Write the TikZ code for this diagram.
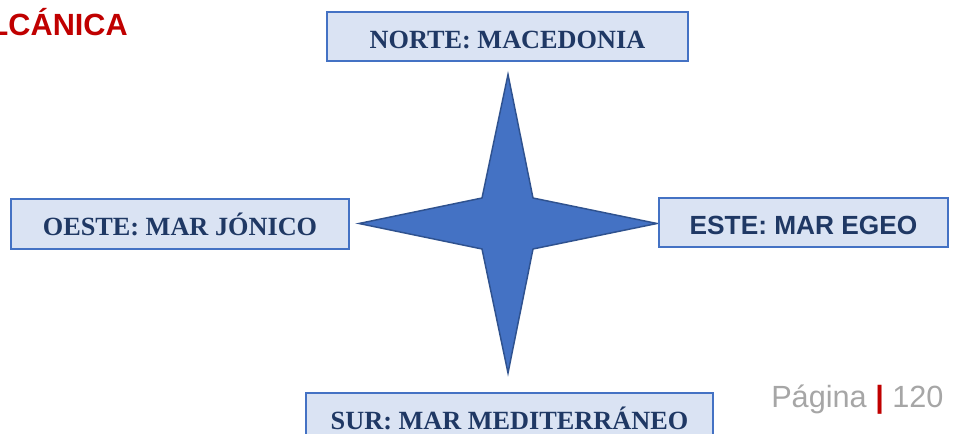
\documentclass[tikz,border=0pt]{standalone}
\usepackage{fontspec}
\setmainfont{Liberation Serif}
\setsansfont{Liberation Sans}
\definecolor{boxfill}{HTML}{DAE3F3}
\definecolor{boxline}{HTML}{4472C4}
\definecolor{boxtext}{HTML}{1F3864}
\definecolor{starfill}{HTML}{4472C4}
\definecolor{starline}{HTML}{2F528F}
\definecolor{titlered}{HTML}{C00000}
\definecolor{pagegray}{HTML}{A6A6A6}
\begin{document}
\begin{tikzpicture}[x=0.75pt,y=-0.75pt,
  dirbox/.style={draw=boxline,fill=boxfill,line width=1.5pt,inner sep=0pt,
    text=boxtext,font=\fontsize{19.7pt}{22pt}\selectfont\bfseries,
    text height=18pt,text depth=0pt,anchor=center},
  sansdir/.style={font=\fontsize{19.7pt}{22pt}\selectfont\sffamily\bfseries}]
\useasboundingbox (0,0) rectangle (953,434);
% title
\node[anchor=base east,inner sep=0pt,text=titlered,font=\fontsize{23pt}{26pt}\selectfont\sffamily\bfseries] (title) at (128,36) {LCÁNICA};
% star
\draw[fill=starfill,draw=starline,line width=1.1pt,line join=miter]
  (508,74.5) -- (533,198) -- (657,223.5) -- (533,249) -- (508,373)
  -- (482,249) -- (359,223.5) -- (482,198) -- cycle;
% boxes
\node[dirbox,minimum width=270.75pt,minimum height=36.75pt] (norte) at (507.5,36.5) {NORTE: MACEDONIA};
\node[dirbox,minimum width=253.5pt,minimum height=37.5pt] (oeste) at (180,224) {OESTE: MAR JÓNICO};
\node[dirbox,sansdir,minimum width=216.75pt,minimum height=36.75pt] (este) at (803.5,222.5) {ESTE: MAR EGEO};
\node[dirbox,minimum width=305.25pt,minimum height=37.5pt] (sur) at (509.5,418) {SUR: MAR MEDITERRÁNEO};
% page number
\node[anchor=base west,inner sep=0pt,text=pagegray,font=\fontsize{23pt}{26pt}\selectfont\sffamily] (pagina) at (771,407) {Página {\color{titlered}\bfseries|} 120};
\end{tikzpicture}
\end{document}
